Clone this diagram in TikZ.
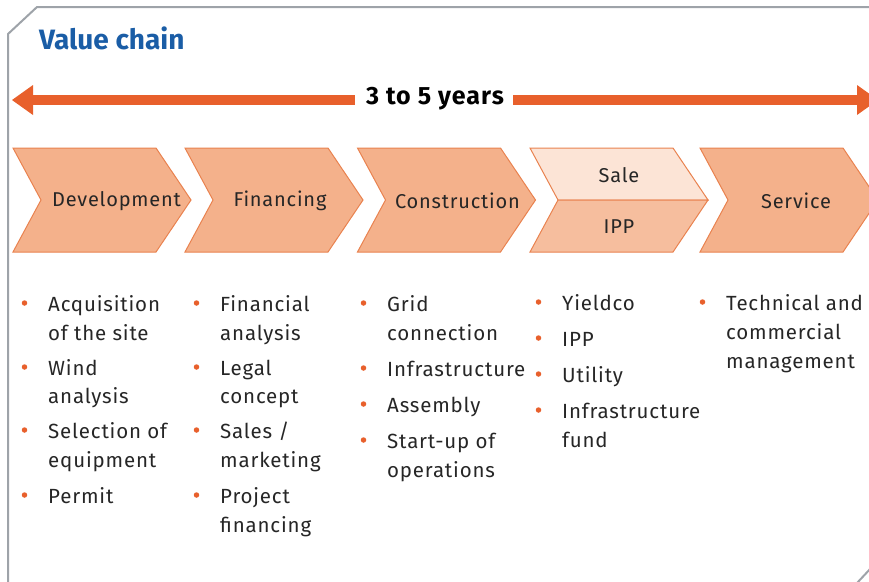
\documentclass[tikz,border=0pt]{standalone}
\usepackage{fontspec}
\setmainfont{Fira Sans}
\newfontfamily\dinf[LetterSpace=4]{Fira Sans}
\newfontfamily\titlef{Fira Sans}
\definecolor{framegray}{HTML}{9EA3A9}
\definecolor{arroworange}{HTML}{E8602C}
\definecolor{chevfill}{HTML}{F4B18B}
\definecolor{chevline}{HTML}{E9824F}
\definecolor{salefill}{HTML}{FCE4D6}
\definecolor{ippfill}{HTML}{F6BE9E}
\definecolor{titleblue}{HTML}{1A5DA6}
\definecolor{txtgray}{HTML}{262626}
\tikzset{
  chev/.style={fill=chevfill, draw=chevline, line width=1pt, line join=miter},
  chevlabel/.style={font=\dinf\fontsize{20}{24}\selectfont, text=txtgray, inner sep=0pt},
  txt/.style={font=\dinf\fontsize{20.5}{24}\selectfont, text=txtgray, inner sep=0pt, anchor=base west},
  bdot/.style={circle, fill=arroworange, minimum size=5.5pt, inner sep=0pt},
}
\newcommand\chevronat[1]{%
  (#1,148) -- ++(143,0) -- ++(35,52) -- ++(-35,52) -- ++(-143,0) -- ++(28,-52) -- cycle}
\newcommand\lnat[4]{\node[txt] (#1) at (#2,#3) {#4};}
\newcommand\bd[3]{\node[bdot] (#1) at (#2-23.5,#3-8) {};}
\begin{document}
\begin{tikzpicture}[x=1pt,y=-1pt]
\useasboundingbox (0,0) rectangle (869,581);
% frame
\draw[framegray, line width=2pt, line join=miter] (880,7) -- (37,7) -- (8,34) -- (8,590);
\draw[framegray, line width=2pt] (857,583) -- (871,568);
% title
\node[font=\titlef\bfseries\fontsize{28}{32}\selectfont, text=titleblue, anchor=base west, inner sep=0pt] (title) at (39,49) {Value chain};
% timeline arrow
\coordinate (al) at (12,100);
\coordinate (ar) at (878,100);
\node[font=\dinf\bfseries\fontsize{25}{29}\selectfont, text=black, inner sep=0pt] (years) at (435,99) {3 to 5 years};
\draw[arroworange, line width=10pt] (31,100) -- (355,100);
\draw[arroworange, line width=10pt] (513,100) -- (859,100);
\fill[arroworange] (al) -- (33,85) -- (33,115) -- cycle;
\fill[arroworange] (ar) -- (857,85) -- (857,115) -- cycle;
% chevrons
\draw[chev] \chevronat{13};
\draw[chev] \chevronat{185};
\draw[chev] \chevronat{357.5};
\draw[chev] \chevronat{700};
\draw[chev, fill=salefill] (530,148) -- (673,148) -- (708,200) -- (558,200) -- cycle;
\draw[chev, fill=ippfill] (558,200) -- (708,200) -- (673,252) -- (530,252) -- cycle;
\node[chevlabel] (dev) at (116.5,201) {Development};
\node[chevlabel] (fin) at (280,201) {Financing};
\node[chevlabel] (con) at (457.5,201) {Construction};
\node[chevlabel] (sale) at (619,175) {Sale};
\node[chevlabel] (ipp) at (619,227) {IPP};
\node[chevlabel] (serv) at (796,201) {Service};
% Development column
\bd{d1b}{48}{311}\lnat{d1a}{48}{311}{Acquisition}\lnat{d1c}{48}{340}{of the site}
\bd{d2b}{48}{375}\lnat{d2a}{48}{375}{Wind}\lnat{d2c}{48}{403}{analysis}
\bd{d3b}{48}{438}\lnat{d3a}{48}{438}{Selection of}\lnat{d3c}{48}{467}{equipment}
\bd{d4b}{48}{503}\lnat{d4a}{48}{503}{Permit}
% Financing column
\bd{f1b}{220}{311}\lnat{f1a}{220}{311}{Financial}\lnat{f1c}{220}{340}{analysis}
\bd{f2b}{220}{375}\lnat{f2a}{220}{375}{Legal}\lnat{f2c}{220}{403}{concept}
\bd{f3b}{220}{438}\lnat{f3a}{220}{438}{Sales /}\lnat{f3c}{220}{467}{marketing}
\bd{f4b}{220}{503}\lnat{f4a}{220}{503}{Project}\lnat{f4c}{220}{532}{financing}
% Construction column
\bd{c1b}{387}{311}\lnat{c1a}{387}{311}{Grid}\lnat{c1c}{387}{340}{connection}
\bd{c2b}{387}{376}\lnat{c2a}{387}{376}{Infrastructure}
\bd{c3b}{387}{412}\lnat{c3a}{387}{412}{Assembly}
\bd{c4b}{387}{448}\lnat{c4a}{387}{448}{Start-up of}\lnat{c4c}{387}{477}{operations}
% Sale column
\bd{s1b}{562}{310}\lnat{s1a}{562}{310}{Yieldco}
\bd{s2b}{562}{346}\lnat{s2a}{562}{346}{IPP}
\bd{s3b}{562}{382}\lnat{s3a}{562}{382}{Utility}
\bd{s4b}{562}{418}\lnat{s4a}{562}{418}{Infrastructure}\lnat{s4c}{562}{447}{fund}
% Service column
\bd{v1b}{726}{310}\lnat{v1a}{726}{310}{Technical and}\lnat{v1c}{726}{339}{commercial}\lnat{v1d}{726}{368}{management}
\end{tikzpicture}
\end{document}
